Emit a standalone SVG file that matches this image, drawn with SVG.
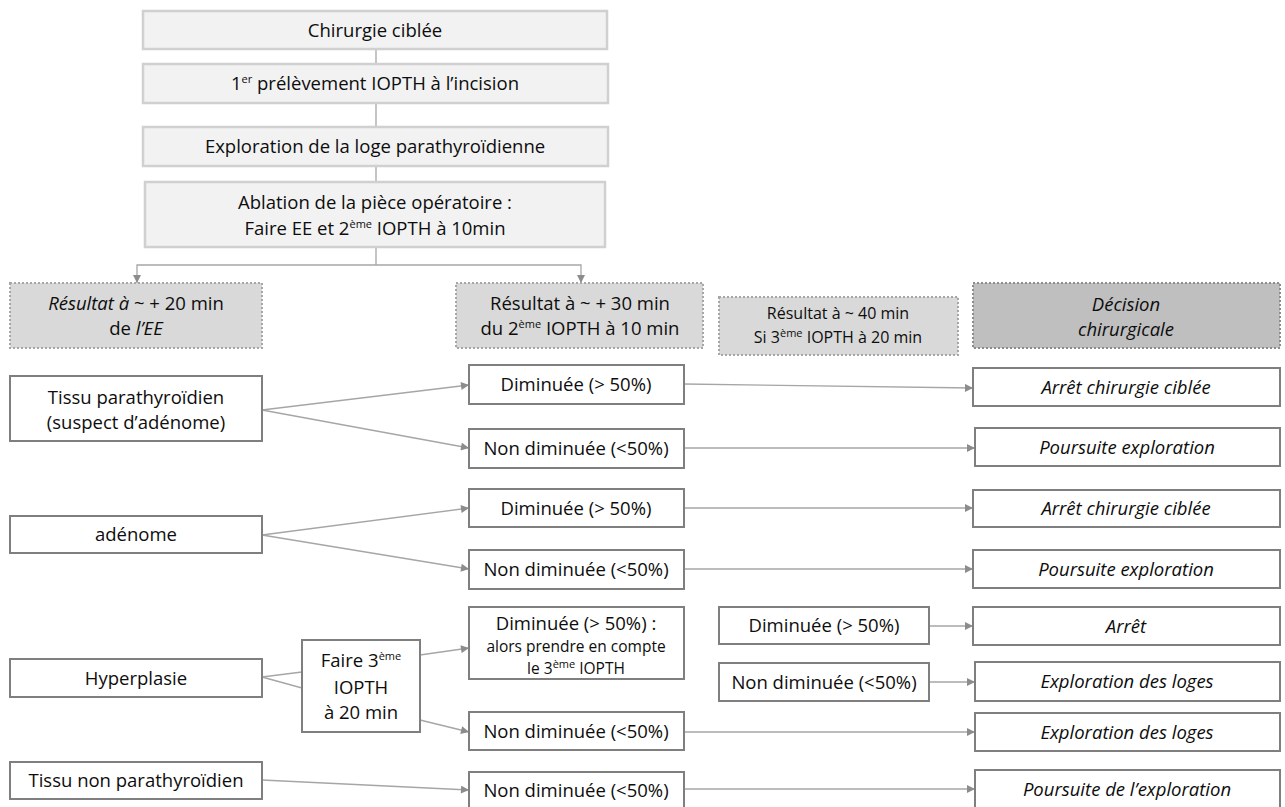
<svg xmlns="http://www.w3.org/2000/svg" width="1285" height="807" viewBox="0 0 1285 807">
<defs>
<marker id="ah" viewBox="0 0 10 10" refX="10" refY="5" markerWidth="9" markerHeight="8" markerUnits="userSpaceOnUse" orient="auto"><path d="M0,0 L10,5 L0,10 z" fill="#8c8c8c"/></marker>
<style>
.top{fill:#f2f2f2;stroke:#d0d0d0;stroke-width:2.5}
.hdr{fill:#d9d9d9;stroke:#a6a6a6;stroke-width:2;stroke-dasharray:2 2}
.hdr2{fill:#bfbfbf;stroke:#8c8c8c;stroke-width:2;stroke-dasharray:2 2}
.box{fill:#fff;stroke:#7f7f7f;stroke-width:2}
text{font-family:"Open Sans","Liberation Sans",sans-serif;font-size:18.5px;fill:#0d0d0d;text-anchor:middle}
.sm{font-size:16px}
.sm2{font-size:15.5px}
.it{font-style:italic}
.sup{font-size:11px}
.con{fill:none;stroke:#a6a6a6;stroke-width:1.3}
.arr{marker-end:url(#ah)}
</style>
</defs>
<rect width="1285" height="807" fill="#fff"/>

<g id="connectors">
<path class="con" d="M376,49V64M376,103V127M376,166V182M376,247V265"/>
<path class="con arr" d="M376,265H137V283"/>
<path class="con arr" d="M376,265H581V283"/>
<path class="con arr" d="M262,410L469,385"/>
<path class="con arr" d="M262,410L469,448"/>
<path class="con arr" d="M684,384L973,388"/>
<path class="con arr" d="M684,448L975,448"/>
<path class="con arr" d="M262,535L469,508"/>
<path class="con arr" d="M262,535L469,569"/>
<path class="con arr" d="M684,508L973,508"/>
<path class="con arr" d="M684,569L973,569"/>
<path class="con" d="M262,677L302,672M262,677L302,688"/>
<path class="con arr" d="M420,655L469,648"/>
<path class="con arr" d="M420,720L469,732"/>
<path class="con arr" d="M929,626L973,626"/>
<path class="con arr" d="M929,682L975,682"/>
<path class="con arr" d="M684,732L975,732"/>
<path class="con arr" d="M262,780L469,790"/>
<path class="con arr" d="M684,789L975,789"/>
</g>

<g id="n-chirurgie"><rect class="top" x="143" y="11" width="464" height="38"/><text x="375" y="36.5">Chirurgie ciblée</text></g>
<g id="n-prelevement"><rect class="top" x="143" y="64" width="465" height="39"/><text x="375" y="90">1<tspan class="sup" dy="-7">er</tspan><tspan dy="7"> prélèvement IOPTH à l’incision</tspan></text></g>
<g id="n-exploration"><rect class="top" x="143" y="127" width="465" height="39"/><text x="375" y="153">Exploration de la loge parathyroïdienne</text></g>
<g id="n-ablation"><rect class="top" x="145" y="182" width="460" height="65"/><text x="375" y="208.5">Ablation de la pièce opératoire :</text><text x="375" y="234.5">Faire EE et 2<tspan class="sup" dy="-7">ème</tspan><tspan dy="7"> IOPTH à 10min</tspan></text></g>

<g id="h-ee"><rect class="hdr" x="10" y="283" width="252" height="65"/><text x="136" y="309.5"><tspan class="it">Résultat à</tspan> ~ + 20 min</text><text x="136" y="334.5">de <tspan class="it">l’EE</tspan></text></g>
<g id="h-30"><rect class="hdr" x="456" y="283" width="247" height="65"/><text x="580" y="309.5">Résultat à ~ + 30 min</text><text x="580" y="334.5">du 2<tspan class="sup" dy="-7">ème</tspan><tspan dy="7"> IOPTH à 10 min</tspan></text></g>
<g id="h-40"><rect class="hdr" x="719" y="297" width="239" height="58"/><text class="sm" x="838" y="318.5">Résultat à ~ 40 min</text><text class="sm" x="838" y="342.5">Si 3<tspan class="sup" font-size="9.5" dy="-6">ème</tspan><tspan dy="6"> IOPTH à 20 min</tspan></text></g>
<g id="h-decision"><rect class="hdr2" x="973" y="283" width="307" height="65"/><text class="it" x="1126" y="311">Décision</text><text class="it" x="1126" y="336">chirurgicale</text></g>

<g id="n-tissu-para"><rect class="box" x="10" y="376" width="252" height="65"/><text x="136" y="404">Tissu parathyroïdien</text><text x="136" y="428.5">(suspect d’adénome)</text></g>
<g id="n-a-dim"><rect class="box" x="469" y="365" width="215" height="39"/><text x="576" y="391">Diminuée (&gt; 50%)</text></g>
<g id="n-a-non"><rect class="box" x="469" y="429" width="215" height="39"/><text x="576" y="455">Non diminuée (&lt;50%)</text></g>
<g id="n-a-arret"><rect class="box" x="973" y="368" width="307" height="38"/><text class="it" x="1126" y="393.5">Arrêt chirurgie ciblée</text></g>
<g id="n-a-pours"><rect class="box" x="975" y="428" width="305" height="38"/><text class="it" x="1127" y="453.5">Poursuite exploration</text></g>

<g id="n-adenome"><rect class="box" x="10" y="516" width="252" height="37"/><text x="136" y="541">adénome</text></g>
<g id="n-b-dim"><rect class="box" x="469" y="489" width="215" height="38"/><text x="576" y="514.5">Diminuée (&gt; 50%)</text></g>
<g id="n-b-non"><rect class="box" x="469" y="550" width="215" height="39"/><text x="576" y="576">Non diminuée (&lt;50%)</text></g>
<g id="n-b-arret"><rect class="box" x="973" y="490" width="307" height="37"/><text class="it" x="1126" y="515">Arrêt chirurgie ciblée</text></g>
<g id="n-b-pours"><rect class="box" x="973" y="550" width="307" height="38"/><text class="it" x="1126" y="575.5">Poursuite exploration</text></g>

<g id="n-hyperplasie"><rect class="box" x="10" y="659" width="252" height="38"/><text x="136" y="684.5">Hyperplasie</text></g>
<g id="n-faire"><rect class="box" x="302" y="640" width="118" height="92"/><text x="361" y="666.5">Faire 3<tspan class="sup" dy="-7">ème</tspan></text><text x="361" y="693.5">IOPTH</text><text x="361" y="718.5">à 20 min</text></g>
<g id="n-c-dim"><rect class="box" x="469" y="607" width="215" height="72"/><text x="576" y="630">Diminuée (&gt; 50%) :</text><text class="sm2" x="576" y="652">alors prendre en compte</text><text class="sm2" x="576" y="673.5">le 3<tspan class="sup" font-size="9" dy="-6">ème</tspan><tspan dy="6"> IOPTH</tspan></text></g>
<g id="n-c-non"><rect class="box" x="469" y="712" width="215" height="38"/><text x="576" y="737.5">Non diminuée (&lt;50%)</text></g>
<g id="n-c3-dim"><rect class="box" x="719" y="607" width="210" height="37"/><text x="824" y="632">Diminuée (&gt; 50%)</text></g>
<g id="n-c3-non"><rect class="box" x="719" y="663" width="210" height="38"/><text x="824" y="688.5">Non diminuée (&lt;50%)</text></g>
<g id="n-c-arret"><rect class="box" x="973" y="607" width="307" height="38"/><text class="it" x="1126" y="632.5">Arrêt</text></g>
<g id="n-c-expl1"><rect class="box" x="975" y="662" width="305" height="39"/><text class="it" x="1127" y="688">Exploration des loges</text></g>
<g id="n-c-expl2"><rect class="box" x="975" y="713" width="305" height="38"/><text class="it" x="1127" y="738.5">Exploration des loges</text></g>

<g id="n-tissu-non"><rect class="box" x="10" y="762" width="252" height="37"/><text x="136" y="787">Tissu non parathyroïdien</text></g>
<g id="n-d-non"><rect class="box" x="469" y="772" width="215" height="40"/><text x="576" y="797">Non diminuée (&lt;50%)</text></g>
<g id="n-d-pours"><rect class="box" x="975" y="770" width="305" height="42"/><text class="it" x="1127" y="796">Poursuite de l’exploration</text></g>
</svg>
